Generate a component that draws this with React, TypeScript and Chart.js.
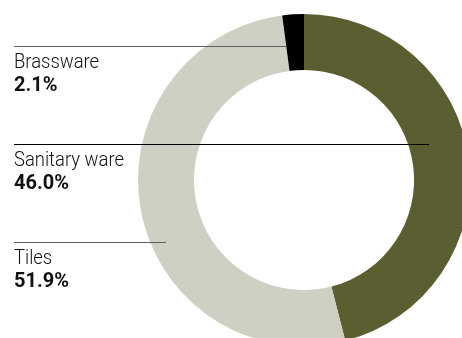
import React, { useEffect, useRef } from "react";
import { Chart, registerables } from "chart.js";

Chart.register(...registerables);

const categories = ["Sanitary ware", "Tiles", "Brassware"];
const shares = [46.0, 51.9, 2.1];
const colors = ["#5b5e30", "#d0cfc3", "#000000"];

// label layout (leader line y and end x), same order as categories
const labelLineY = [144, 242, 46];
const labelLineEndX = [429, 166, 286];
const labelLineColor = ["#000000", "#5e5e5e", "#5e5e5e"];

const labelPlugin = {
  id: "sideLabels",
  afterDatasetsDraw(chart: any) {
    const ctx = chart.ctx;
    ctx.save();
    categories.forEach((name, i) => {
      const y = labelLineY[i];
      ctx.beginPath();
      ctx.strokeStyle = labelLineColor[i];
      ctx.lineWidth = 1;
      ctx.moveTo(14, y + 0.5);
      ctx.lineTo(labelLineEndX[i], y + 0.5);
      ctx.stroke();
      ctx.fillStyle = "#111111";
      ctx.textAlign = "left";
      ctx.textBaseline = "alphabetic";
      ctx.save();
      ctx.translate(14, y + 22);
      ctx.scale(0.9, 1);
      ctx.font = "300 20.5px Roboto";
      ctx.fillText(name, 0, 0);
      ctx.restore();
      ctx.font = "700 20px Roboto";
      ctx.fillText(shares[i].toFixed(1) + "%", 14, y + 45);
    });
    ctx.restore();
  },
};

export default function App() {
  const ref = useRef<HTMLCanvasElement>(null);
  useEffect(() => {
    if (!ref.current) return;
    const chart = new Chart(ref.current, {
      type: "doughnut",
      data: {
        labels: categories,
        datasets: [
          {
            data: shares,
            backgroundColor: colors,
            borderWidth: 0,
            hoverOffset: 0,
          },
        ],
      },
      options: {
        responsive: false,
        animation: false,
        cutout: "66.3%",
        layout: { padding: { left: 138, top: 14, right: 10, bottom: 14 } },
        plugins: { legend: { display: false }, tooltip: { enabled: false } },
      },
      plugins: [labelPlugin],
    });
    return () => chart.destroy();
  }, []);
  return (
    <div
      style={{
        position: "fixed",
        left: 0,
        top: 0,
        width: 462,
        height: 338,
        overflow: "hidden",
        background: "#fff",
      }}
    >
      <canvas ref={ref} width={480} height={360} style={{ display: "block" }} />
    </div>
  );
}
